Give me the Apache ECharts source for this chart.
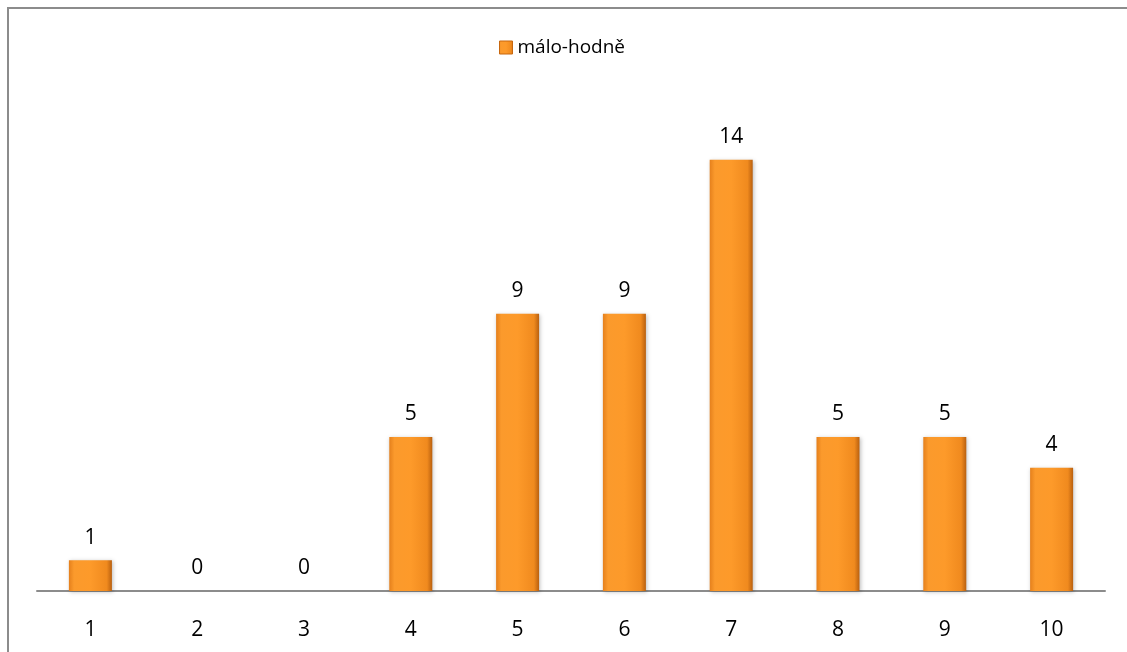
<!DOCTYPE html>
<html>
<head>
<meta charset="utf-8">
<script src="https://cdn.jsdelivr.net/npm/echarts@6/dist/echarts.min.js"></script>
<style>
  html, body { margin: 0; padding: 0; background: #fff; }
  #frame { position: absolute; left: 7px; top: 7px; width: 1200px; height: 700px;
           border-left: 2px solid #8c8c8c; border-top: 2px solid #8c8c8c; box-sizing: border-box; }
  #chart { position: absolute; left: 0; top: 0; width: 1127px; height: 652px; }
</style>
</head>
<body>
<div id="frame"></div>
<div id="chart"></div>
<script>
// Scores 1–10 and how many answers fell on each
const categories = ['1', '2', '3', '4', '5', '6', '7', '8', '9', '10'];
const counts = [1, 0, 0, 5, 9, 9, 14, 5, 5, 4];
const seriesName = 'málo-hodně';

const font = '"Open Sans", "Liberation Sans", sans-serif';

const barFill = new echarts.graphic.LinearGradient(0, 0, 1, 0, [
  { offset: 0, color: '#e5801c' },
  { offset: 0.12, color: '#fb9a2c' },
  { offset: 0.5, color: '#fd9a2a' },
  { offset: 0.88, color: '#f08a1e' },
  { offset: 1, color: '#b9600f' }
]);

const chart = echarts.init(document.getElementById('chart'), null, { renderer: 'canvas' });
chart.setOption({
  animation: false,
  legend: {
    top: 33,
    left: 494,
    itemWidth: 13,
    itemHeight: 13,
    itemGap: 6,
    textStyle: { fontFamily: font, fontSize: 19, color: '#000' },
    data: [{ name: seriesName, icon: 'rect', itemStyle: { borderColor: '#c7670f', borderWidth: 1 } }]
  },
  grid: { left: 37, right: 22, top: 98, bottom: 61, containLabel: false },
  xAxis: {
    type: 'category',
    data: categories,
    axisLine: { lineStyle: { color: '#8c8c8c', width: 2 } },
    axisTick: { show: false },
    axisLabel: { fontFamily: font, fontSize: 21, color: '#000', margin: 29 }
  },
  yAxis: {
    type: 'value',
    min: 0,
    max: 16,
    show: false,
    splitLine: { show: false }
  },
  series: [{
    name: seriesName,
    type: 'bar',
    data: counts,
    barWidth: 43,
    itemStyle: {
      color: barFill,
      borderWidth: 0,
      shadowColor: 'rgba(0,0,0,0.25)',
      shadowBlur: 4,
      shadowOffsetX: 1,
      shadowOffsetY: 1
    },
    label: {
      show: true,
      position: 'top',
      distance: 12,
      fontFamily: font,
      fontSize: 21,
      color: '#000'
    }
  }]
});
</script>
</body>
</html>
